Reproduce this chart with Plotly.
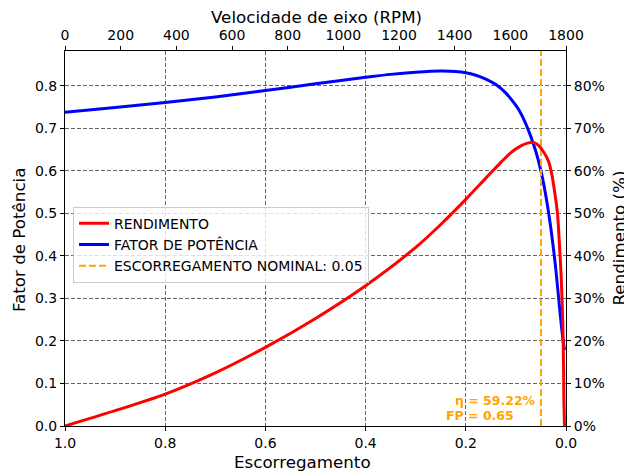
import plotly.graph_objects as go

# ---- data ----
s_rend = [1.0, 0.9, 0.8, 0.7, 0.6, 0.5, 0.4, 0.3, 0.25, 0.2, 0.16, 0.13, 0.11, 0.09,
          0.075, 0.065, 0.055, 0.045, 0.035, 0.028, 0.022, 0.017, 0.013, 0.010,
          0.0075, 0.006, 0.0048, 0.0042, 0.003]
rend_pct = [0.0, 3.6, 7.5, 12.5, 18.5, 25.3, 33.0, 42.0, 47.4, 53.3, 58.3, 62.0, 64.3, 65.9,
            66.6, 66.7, 66.0, 64.5, 62.3, 59.0, 54.5, 50.0, 42.5, 36.0,
            28.5, 22.0, 13.0, 6.0, 0.0]

s_fp = [1.0, 0.9, 0.8, 0.7, 0.6, 0.5, 0.4, 0.35, 0.3, 0.25, 0.22, 0.2, 0.18, 0.16, 0.14,
        0.12, 0.10, 0.09, 0.08, 0.07, 0.06, 0.05, 0.04, 0.03, 0.02, 0.012, 0.006, 0.003]
fp = [0.738, 0.749, 0.761, 0.774, 0.789, 0.805, 0.820, 0.827, 0.832, 0.835, 0.834, 0.831,
      0.825, 0.816, 0.803, 0.783, 0.754, 0.735, 0.710, 0.680, 0.645, 0.600, 0.540, 0.463,
      0.365, 0.268, 0.203, 0.178]

s_nominal = 0.05
eta_text = "η = 59.22%"
fp_text = "FP = 0.65"

x_ticks = [1.0, 0.8, 0.6, 0.4, 0.2, 0.0]
rpm_ticks = [0, 200, 400, 600, 800, 1000, 1200, 1400, 1600, 1800]
y_ticks = [0.0, 0.1, 0.2, 0.3, 0.4, 0.5, 0.6, 0.7, 0.8]
pct_ticks = [0, 10, 20, 30, 40, 50, 60, 70, 80]
pct_labels = ["0%", "10%", "20%", "30%", "40%", "50%", "60%", "70%", "80%"]

y_max = 0.882
rpm_range = [0, 1800]

FONT = "DejaVu Sans"
ORANGE = "#FFA500"

fig = go.Figure()
fig.add_trace(go.Scatter(x=s_rend, y=rend_pct, mode="lines", name="RENDIMENTO",
                         line=dict(color="red", width=3, shape="spline", smoothing=0.8),
                         xaxis="x", yaxis="y2"))
fig.add_trace(go.Scatter(x=s_fp, y=fp, mode="lines", name="FATOR DE POTÊNCIA",
                         line=dict(color="blue", width=3, shape="spline", smoothing=0.8),
                         xaxis="x", yaxis="y"))
fig.add_trace(go.Scatter(x=[s_nominal, s_nominal], y=[0, y_max], mode="lines",
                         name="ESCORREGAMENTO NOMINAL: %.2f" % s_nominal,
                         line=dict(color=ORANGE, width=2, dash="7px,3px"),
                         xaxis="x", yaxis="y"))
# invisible carrier so the top RPM axis is drawn
fig.add_trace(go.Scatter(x=rpm_range, y=[None, None], mode="lines", showlegend=False,
                         hoverinfo="skip", xaxis="x2", yaxis="y"))

axis_common = dict(showline=True, linecolor="black", linewidth=1, ticks="outside",
                   ticklen=4, tickcolor="black", zeroline=False,
                   tickfont=dict(family=FONT, size=14, color="black"))
grid = dict(showgrid=True, gridcolor="#666666", gridwidth=1, griddash="4px,2px")

fig.update_layout(
    width=624, height=472, autosize=False,
    margin=dict(l=65, r=58, t=51, b=46),
    plot_bgcolor="white", paper_bgcolor="white",
    font=dict(family=FONT, size=14, color="black"),
    xaxis=dict(range=[1.0, 0.0], tickmode="array", tickvals=x_ticks, tickformat=".1f",
               **axis_common, **grid),
    xaxis2=dict(range=rpm_range, tickmode="array", tickvals=rpm_ticks, overlaying="x",
                side="top", anchor="y", showgrid=False, **axis_common),
    yaxis=dict(range=[0, y_max], tickmode="array", tickvals=y_ticks, tickformat=".1f",
               **axis_common, **grid),
    yaxis2=dict(range=[0, y_max * 100], tickmode="array", tickvals=pct_ticks,
                ticktext=pct_labels, overlaying="y", side="right", anchor="x",
                showgrid=False, **axis_common),
    legend=dict(x=0.016, y=0.585, xanchor="left", yanchor="top",
                bgcolor="rgba(255,255,255,0.8)", bordercolor="#cccccc", borderwidth=1,
                font=dict(family=FONT, size=14), itemwidth=30, tracegroupgap=0),
    showlegend=True,
)


def px(xp):
    return (xp - 65) / 501.0


def py(yp):
    return (426 - yp) / 375.0


title_font = dict(family=FONT, size=16.7, color="black")
fig.add_annotation(text="Escorregamento", x=px(302.5), y=py(462), xref="paper", yref="paper",
                   showarrow=False, xanchor="center", yanchor="middle", font=title_font)
fig.add_annotation(text="Velocidade de eixo (RPM)", x=px(316), y=py(17), xref="paper",
                   yref="paper", showarrow=False, xanchor="center", yanchor="middle",
                   font=title_font)
fig.add_annotation(text="Fator de Potência", x=px(19), y=py(240), xref="paper", yref="paper",
                   showarrow=False, xanchor="center", yanchor="middle", textangle=-90,
                   font=title_font)
fig.add_annotation(text="Rendimento (%)", x=px(618), y=py(238.5), xref="paper", yref="paper",
                   showarrow=False, xanchor="center", yanchor="middle", textangle=-90,
                   font=title_font)

ann_font = dict(family=FONT, size=12.5, color=ORANGE, weight="bold")
fig.add_annotation(text=eta_text, x=px(495.5), y=py(400.7), xref="paper", yref="paper",
                   showarrow=False, xanchor="center", yanchor="middle", font=ann_font)
fig.add_annotation(text=fp_text, x=px(480), y=py(415.7), xref="paper", yref="paper",
                   showarrow=False, xanchor="center", yanchor="middle", font=ann_font)

fig.write_html("out.html", config={"displayModeBar": False},
               post_script="document.body.style.margin='0px';")
